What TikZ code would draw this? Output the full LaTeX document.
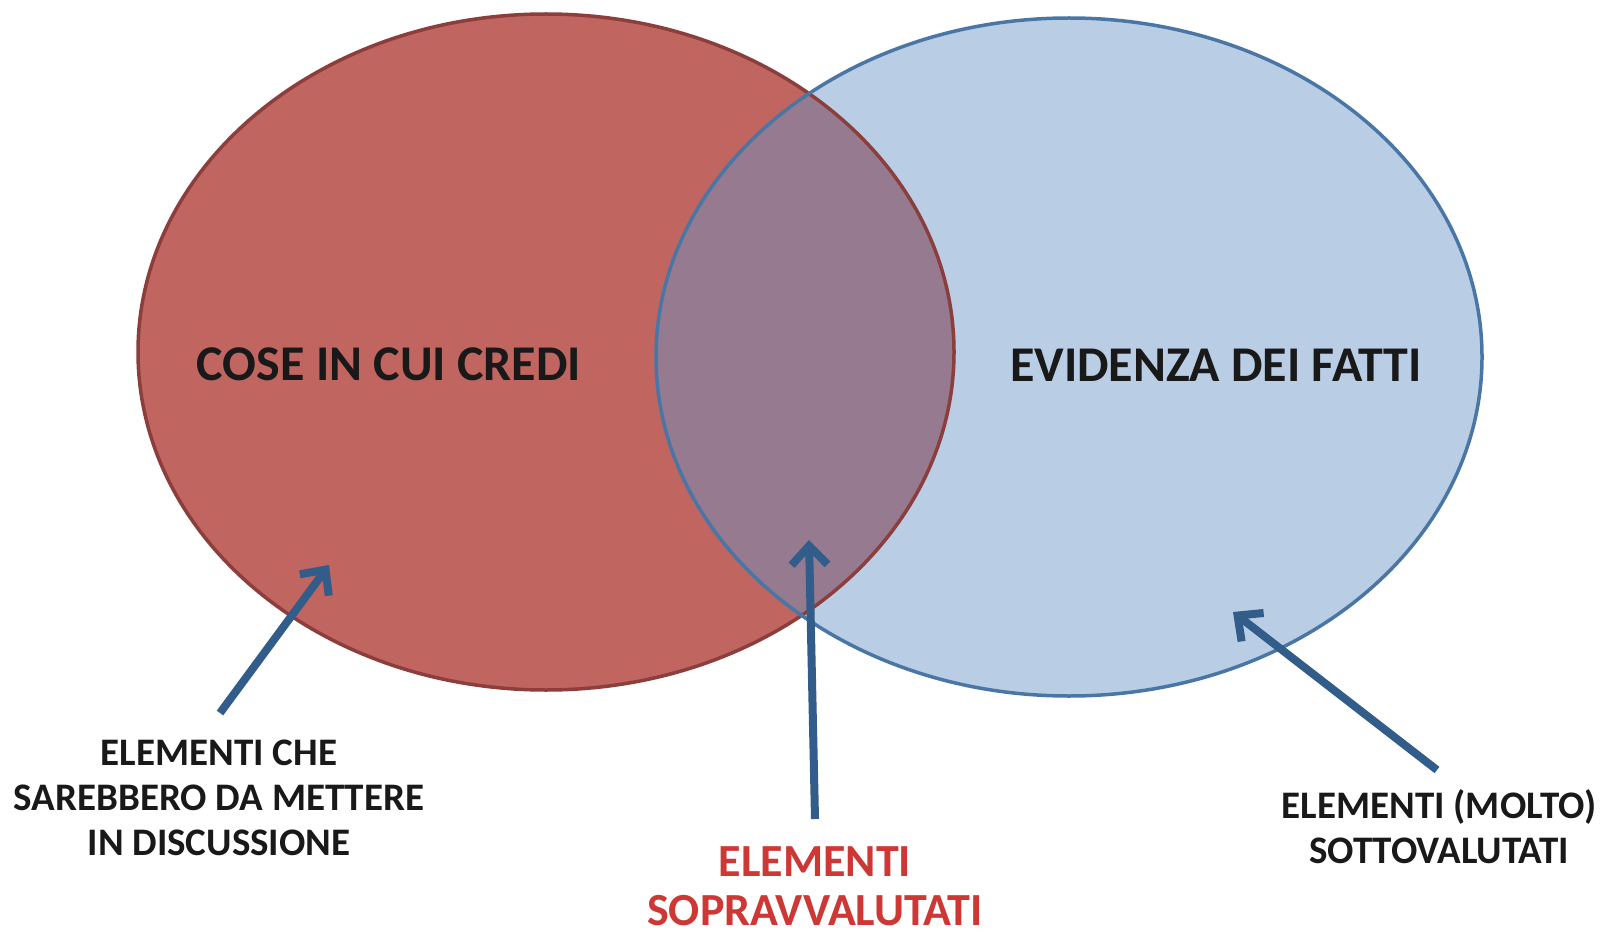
\documentclass[tikz,border=0pt]{standalone}
\usepackage{fontspec}
\setmainfont{Carlito}
\usetikzlibrary{arrows.meta}
\definecolor{credired}{RGB}{192,101,95}
\definecolor{crediedge}{RGB}{140,62,60}
\definecolor{fattiblue}{RGB}{185,205,229}
\definecolor{fattiedge}{RGB}{74,118,166}
\definecolor{mixpurple}{RGB}{150,122,143}
\definecolor{arrowblue}{RGB}{50,92,138}
\definecolor{sopratext}{RGB}{205,55,52}
\tikzset{
  pointer/.style={line width=8pt, arrowblue, -{Straight Barb[length=19pt,width=36pt,line width=8pt]}},
  biglabel/.style={font=\bfseries\fontsize{50}{60}\selectfont, text=black!90},
  smalllabel/.style={font=\bfseries\fontsize{39}{45}\selectfont, align=center, text=black!90},
}

\begin{document}
\begin{tikzpicture}[x=1pt,y=-1pt]
	\useasboundingbox (0,0) rectangle (1605,933);
	\fill [credired] (546,352) ellipse [x radius=408pt, y radius=338pt];
	\fill [fattiblue] (1069,357) ellipse [x radius=413pt, y radius=339pt];
	\begin{scope}
		\clip (1069,357) ellipse [x radius=413pt, y radius=339pt];
		\fill [mixpurple] (546,352) ellipse [x radius=408pt, y radius=338pt];
	\end{scope}
	\draw [line width=3.5pt, crediedge] (546,352) ellipse [x radius=408pt, y radius=338pt];
	\draw [line width=3.5pt, fattiedge] (1069,357) ellipse [x radius=413pt, y radius=339pt];

	\node [biglabel] (credi) at (389,364) {COSE IN CUI CREDI};
	\node [biglabel] (fatti) at (1216,365) {EVIDENZA DEI FATTI};

	\node [smalllabel] (dubbi) at (219,798) {ELEMENTI CHE\\SAREBBERO DA METTERE\\IN DISCUSSIONE};
	\node [smalllabel, inner sep=0pt, font=\bfseries\fontsize{46}{49}\selectfont, text=sopratext] (sopra) at (815,886) {ELEMENTI\\SOPRAVVALUTATI};
	\node [smalllabel] (sotto) at (1439,827) {ELEMENTI (MOLTO)\\SOTTOVALUTATI};

	\coordinate (tipdubbi) at (329,565);
	\coordinate (tipsopra) at (809,540);
	\coordinate (tipsotto) at (1233,612);
	\coordinate (taildubbi) at (220,713);
	\coordinate (tailsopra) at (815,819);
	\coordinate (tailsotto) at (1437,770);
	\draw [pointer] (taildubbi) -- (tipdubbi);
	\draw [pointer] (tailsopra) -- (tipsopra);
	\draw [pointer] (tailsotto) -- (tipsotto);
\end{tikzpicture}
\end{document}
